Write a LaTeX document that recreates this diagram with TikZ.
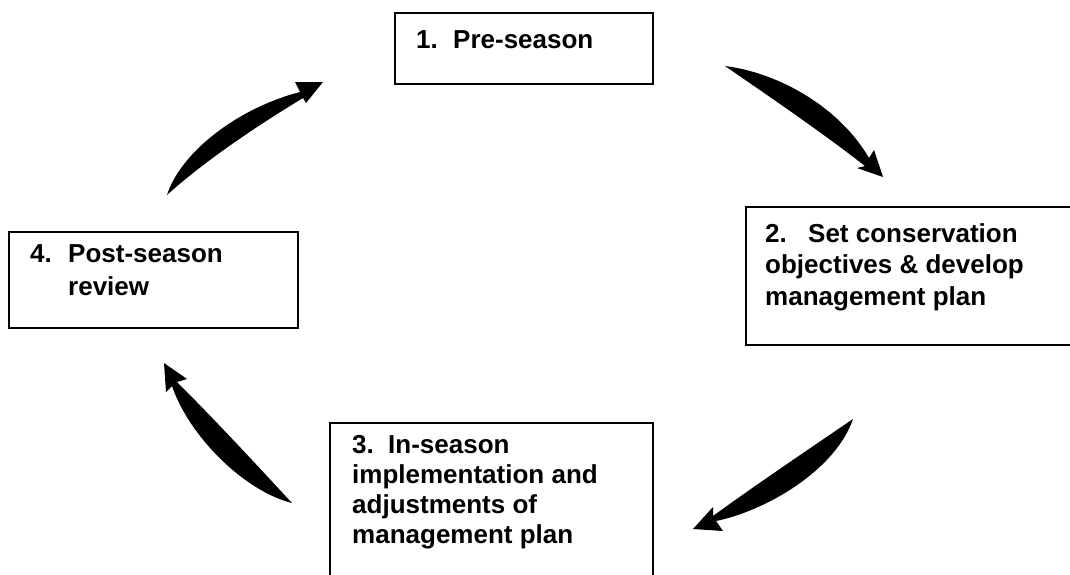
\documentclass[tikz,border=0pt]{standalone}
\usepackage{fontspec}
\setmainfont{Liberation Sans}
\begin{document}
\begin{tikzpicture}[x=1pt,y=-1pt,
  stagebox/.style={draw=black,line width=1.8pt,fill=white,inner sep=0pt,anchor=north west},
  stagetext/.style={anchor=base west,inner sep=0pt,align=left,font=\bfseries\fontsize{26}{31}\selectfont},
  cycarrow/.style={fill=black}]
\useasboundingbox (0,0) rectangle (1070,574);
\clip (0,0) rectangle (1070,574);
% boxes
\node[stagebox,minimum width=258pt,minimum height=71pt] (b1) at (394,12) {};
\node[stagebox,minimum width=340pt,minimum height=138pt] (b2) at (745,206) {};
\node[stagebox,minimum width=323pt,minimum height=170pt] (b3) at (329,422) {};
\node[stagebox,minimum width=289pt,minimum height=96pt] (b4) at (8,231) {};
% texts (base anchor = baseline of the last line)
\node[stagetext] (t1) at (416,48) {\makebox[37pt][l]{1.}Pre-season};
\node[stagetext,font=\bfseries\fontsize{26}{31.5}\selectfont] (t2) at (765,305) {\makebox[43pt][l]{2.}Set conservation\\objectives \& develop\\management plan};
\node[stagetext,font=\bfseries\fontsize{26}{30}\selectfont] (t3) at (352,543) {\makebox[36pt][l]{3.}In-season\\implementation and\\adjustments of\\management plan};
\node[stagetext,font=\bfseries\fontsize{26}{33}\selectfont] (t4) at (30,295) {\makebox[38pt][l]{4.}Post-season\\\hspace*{38pt}review};
% arrow A: 1 -> 2
\coordinate (aT) at (725,66);
\coordinate (aU) at (869,158);
\coordinate (aB1) at (874,150);
\coordinate (aTip) at (883,177);
\coordinate (aB2) at (857,168);
\coordinate (aL) at (865,166);
\fill[cycarrow] (aT) .. controls (780,73) and (840,108) .. (aU) -- (aB1) -- (aTip) -- (aB2) -- (aL) .. controls (820,131) and (770,97) .. (aT) -- cycle;
% arrow D: 2 -> 3
\coordinate (dT) at (853,419);
\coordinate (dU) at (713,516);
\coordinate (dB1) at (713,507);
\coordinate (dTip) at (693,529);
\coordinate (dB2) at (723,531);
\coordinate (dL) at (716,521);
\fill[cycarrow] (dT) .. controls (800,455) and (750,489) .. (dU) -- (dB1) -- (dTip) -- (dB2) -- (dL) .. controls (765,511) and (835,471) .. (dT) -- cycle;
% arrow C: 3 -> 4
\coordinate (cT) at (292,503);
\coordinate (cL) at (172,386);
\coordinate (cB2) at (166,392);
\coordinate (cTip) at (164,363);
\coordinate (cB1) at (187,379);
\coordinate (cR) at (177,382);
\fill[cycarrow] (cT) .. controls (244,491) and (189,436) .. (cL) -- (cB2) -- (cTip) -- (cB1) -- (cR) .. controls (216,421) and (254,462) .. (cT) -- cycle;
% arrow B: 4 -> 1
\coordinate (bT) at (167,195);
\coordinate (bU) at (300,92);
\coordinate (bB1) at (295,82);
\coordinate (bTip) at (323,82);
\coordinate (bB2) at (306,103);
\coordinate (bL) at (303,98);
\fill[cycarrow] (bT) .. controls (180,154) and (235,109) .. (bU) -- (bB1) -- (bTip) -- (bB2) -- (bL) .. controls (250,130) and (200,165) .. (bT) -- cycle;
\end{tikzpicture}
\end{document}
